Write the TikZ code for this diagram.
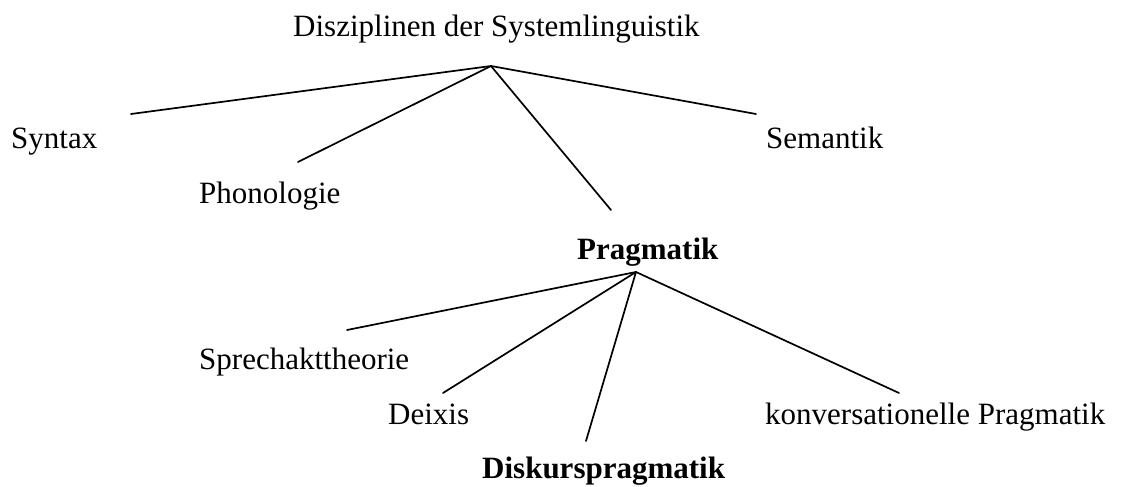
\documentclass[tikz,border=0pt]{standalone}
\usepackage{fontspec}
\setmainfont{Liberation Serif}
\begin{document}
\begin{tikzpicture}[x=1pt,y=-1pt,
  lbl/.style={inner sep=0pt, anchor=base west, font=\fontsize{31}{36}\selectfont},
  blbl/.style={lbl, font=\fontsize{31}{36}\selectfont\bfseries},
  edge/.style={line width=1.7pt, line cap=round}]
\useasboundingbox (0,0) rectangle (1125,487);
% labels
\node[lbl]  (title)  at (293,37)  {Disziplinen der Systemlinguistik};
\node[lbl]  (syntax) at (11,148)  {Syntax};
\node[lbl]  (phon)   at (199,203) {Phonologie};
\node[lbl]  (sem)    at (766,148) {Semantik};
\node[blbl] (prag)   at (577,259) {Pragmatik};
\node[lbl]  (sprech) at (199,369) {Sprechakttheorie};
\node[lbl]  (deix)   at (388,424) {Deixis};
\node[lbl]  (konv)   at (765,424) {konversationelle Pragmatik};
\node[blbl] (disk)   at (482,478) {Diskurspragmatik};
% connector end points
\coordinate (hubA) at (491,66);
\coordinate (eSyn) at (131,114);
\coordinate (ePhon) at (298,162);
\coordinate (ePrag) at (611,210);
\coordinate (eSem) at (756,114);
\coordinate (hubB) at (636,272);
\coordinate (eSpr) at (347,330);
\coordinate (eDei) at (443,393);
\coordinate (eDis) at (586,441);
\coordinate (eKon) at (899,393);
% connectors
\draw[edge] (hubA) -- (eSyn);
\draw[edge] (hubA) -- (ePhon);
\draw[edge] (hubA) -- (ePrag);
\draw[edge] (hubA) -- (eSem);
\draw[edge] (hubB) -- (eSpr);
\draw[edge] (hubB) -- (eDei);
\draw[edge] (hubB) -- (eDis);
\draw[edge] (hubB) -- (eKon);
\end{tikzpicture}
\end{document}
